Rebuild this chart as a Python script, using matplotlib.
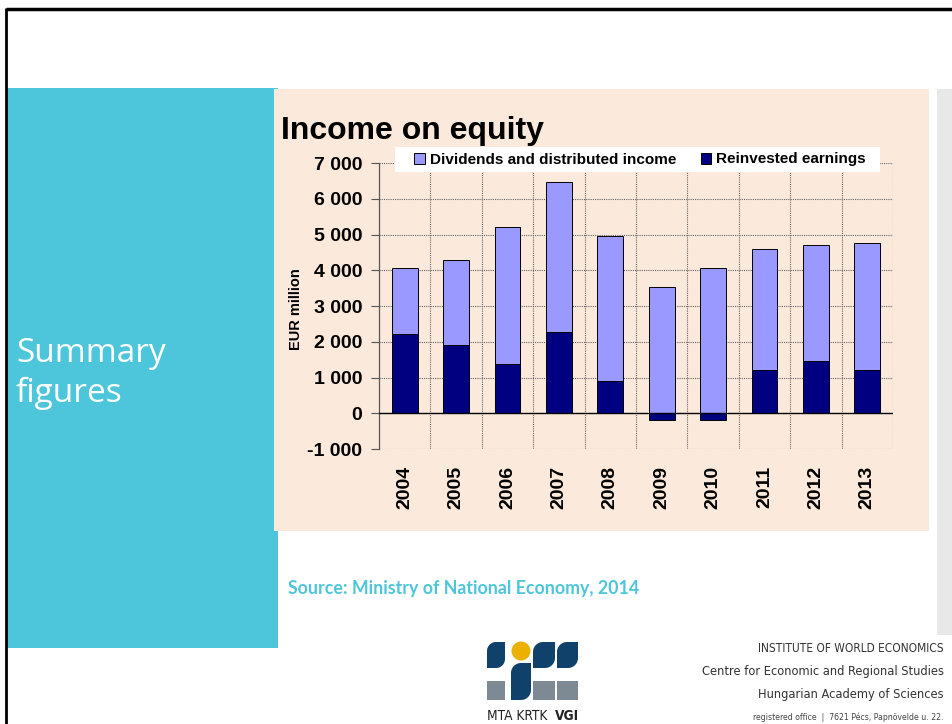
import numpy as np
import matplotlib
matplotlib.use('Agg')
import matplotlib.pyplot as plt
from matplotlib.patches import Rectangle, Polygon, Circle
from matplotlib.ticker import FuncFormatter
from matplotlib import font_manager

# data (EUR million)
years = ['2004', '2005', '2006', '2007', '2008', '2009', '2010', '2011', '2012', '2013']
dividends = [1820, 2380, 3830, 4200, 4050, 3520, 4050, 3380, 3250, 3550]
reinvested = [2230, 1920, 1370, 2280, 900, -180, -180, 1220, 1450, 1200]
yticks = [-1000, 0, 1000, 2000, 3000, 4000, 5000, 6000, 7000]

W, H = 953, 724
CYAN = '#4DC6DB'
PEACH = '#FBE9DC'
LOGO_BLUE = '#10416A'

names = {f.name for f in font_manager.fontManager.ttflist}
narrow = 'Liberation Sans Narrow' if 'Liberation Sans Narrow' in names else 'DejaVu Sans'
chart_font = 'Liberation Sans'
foot = dict(family=narrow, stretch='condensed')

fig = plt.figure(figsize=(W / 100, H / 100), dpi=100, facecolor='white')

# background layer in pixel coords (y down)
bg = fig.add_axes([0, 0, 1, 1])
bg.set_xlim(0, W)
bg.set_ylim(H, 0)
bg.axis('off')

bg.add_patch(Rectangle((7, 88), 271, 560, color=CYAN, lw=0))
bg.add_patch(Rectangle((274, 89), 655, 442, color=PEACH, lw=0))
bg.add_patch(Rectangle((937, 89), 16, 546, color='#E8E8E8', lw=0))
bg.plot([6, W], [9, 9], color='black', lw=2.5, solid_capstyle='butt')
bg.plot([6, 6], [8, H], color='black', lw=2, solid_capstyle='butt')

bg.text(16, 362, 'Summary', color='white', fontsize=24, family='Open Sans')
bg.text(16, 402, 'figures', color='white', fontsize=24, family='Open Sans')
bg.text(288, 594, 'Source: Ministry of National Economy, 2014', color=CYAN,
        fontsize=12.8, family='Lato', fontweight='bold')

bg.text(281, 139, 'Income on equity', fontsize=23, fontweight='bold', family=chart_font)
bg.text(296, 309, 'EUR million', fontsize=10.5, fontweight='bold', family=chart_font,
        rotation=90, ha='center', va='center')

# footer
bg.text(944, 652, 'INSTITUTE OF WORLD ECONOMICS', ha='right', fontsize=8.6, color='#333333', **foot)
bg.text(944, 675, 'Centre for Economic and Regional Studies', ha='right', fontsize=9.2, color='#333333', **foot)
bg.text(944, 698, 'Hungarian Academy of Sciences', ha='right', fontsize=9.2, color='#333333', **foot)
bg.text(944, 720, 'registered office  |  7621 Pécs, Papnövelde u. 22.', ha='right', fontsize=6.2,
        color='#444444', **foot)


def leaf(x0, y0, w, h, r):
    t = np.linspace(0, np.pi / 2, 14)
    pts = [(x0 + r - r * np.cos(a), y0 + r - r * np.sin(a)) for a in t]
    pts.append((x0 + w, y0))
    pts += [(x0 + w - r + r * np.cos(a), y0 + h - r + r * np.sin(a)) for a in t]
    pts.append((x0, y0 + h))
    return Polygon(pts, closed=True, color=LOGO_BLUE, lw=0)


# logo
bg.add_patch(leaf(487, 642, 18, 26, 9))
bg.add_patch(leaf(533, 642, 22, 26, 10))
bg.add_patch(leaf(557, 642, 21, 26, 10))
bg.add_patch(leaf(511, 663, 20, 37, 10))
bg.add_patch(Circle((521, 651), 9.5, color='#EBB000', lw=0))
for gx, gw in [(487, 18), (533, 22), (557, 21)]:
    bg.add_patch(Rectangle((gx, 681), gw, 19, color='#7E8A93', lw=0))
bg.text(487, 720, 'MTA KRTK', fontsize=9.8, color='#222222', **foot)
bg.text(579, 720, 'VGI', fontsize=9.8, color='#222222', fontweight='bold', ha='right', **foot)

# chart
ax = fig.add_axes([379 / W, 1 - 449 / H, 514 / W, 286 / H])
ax.set_facecolor('none')
x = np.arange(len(years))
div_bottom = [max(r, 0) for r in reinvested]
ax.bar(x, reinvested, width=0.5, color='#000080', edgecolor='black', lw=0.7,
       label='Reinvested earnings', zorder=3)
ax.bar(x, dividends, width=0.5, bottom=div_bottom, color='#9999FF', edgecolor='black', lw=0.7,
       label='Dividends and distributed income', zorder=3)

ax.set_xlim(-0.5, len(years) - 0.5)
ax.set_ylim(-1000, 7000)
ax.set_yticks(yticks)
ax.yaxis.set_major_formatter(FuncFormatter(lambda v, p: f'{int(v):,}'.replace(',', ' ')))
ax.set_xticks(x)
ax.set_xticklabels(years, rotation=90)
ax.tick_params(axis='x', length=0, pad=12)
ax.tick_params(axis='y', length=6, width=0.8, color='#555555', pad=6)
for lab in ax.get_xticklabels() + ax.get_yticklabels():
    lab.set_fontsize(14)
    lab.set_fontweight('bold')
    lab.set_family(chart_font)

for s in ['top', 'right', 'bottom']:
    ax.spines[s].set_visible(False)
ax.spines['left'].set_color('#555555')
ax.spines['left'].set_linewidth(0.9)

for v in yticks:
    if v != 0:
        ax.axhline(v, color='#666666', lw=0.8, ls=(0, (1, 1)), zorder=1)
for b in np.arange(0.5, len(years), 1.0):
    ax.axvline(b, color='#666666', lw=0.8, ls=(0, (1, 1)), zorder=1)
ax.axhline(0, color='black', lw=1, zorder=4)

# white legend box over the top gridline
fig.patches.append(Rectangle((395 / W, 1 - 172 / H), 485 / W, 25 / H, transform=fig.transFigure,
                             facecolor='white', edgecolor='none', zorder=4))
handles, labels = ax.get_legend_handles_labels()
leg = fig.legend(handles[::-1], labels[::-1], loc='center', ncol=2,
                 bbox_to_anchor=(640 / W, 1 - 159.5 / H), frameon=False,
                 prop={'family': chart_font, 'weight': 'bold', 'size': 11},
                 handlelength=0.7, handleheight=0.7, handletextpad=0.3,
                 columnspacing=1.6, borderpad=0.4)
leg.set_zorder(5)

fig.savefig('out.png', dpi=100, facecolor='white')
